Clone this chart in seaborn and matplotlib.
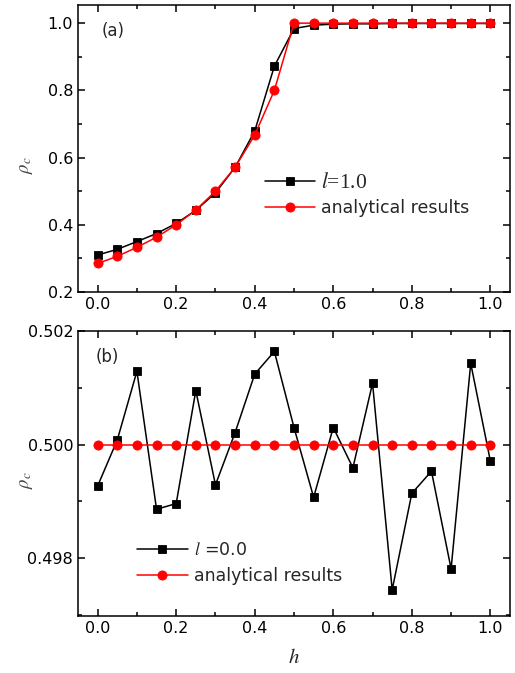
import numpy as np
import pandas as pd
import matplotlib
matplotlib.use("Agg")
import matplotlib.pyplot as plt
import seaborn as sns
from matplotlib.ticker import MultipleLocator, FormatStrFormatter

# ---- data ----
h = [0.00, 0.05, 0.10, 0.15, 0.20, 0.25, 0.30, 0.35, 0.40, 0.45, 0.50,
     0.55, 0.60, 0.65, 0.70, 0.75, 0.80, 0.85, 0.90, 0.95, 1.00]
sim_l1 = [0.310, 0.327, 0.350, 0.374, 0.404, 0.443, 0.495, 0.571, 0.679, 0.872, 0.984,
          0.994, 0.997, 0.998, 0.998, 0.999, 0.999, 0.999, 0.999, 0.999, 0.999]
ana_a = [0.285, 0.306, 0.333, 0.363, 0.400, 0.444, 0.500, 0.571, 0.667, 0.800, 1.000,
         1.000, 1.000, 1.000, 1.000, 1.000, 1.000, 1.000, 1.000, 1.000, 1.000]
sim_l0 = [0.49927, 0.50008, 0.50129, 0.49886, 0.49896, 0.50095, 0.49929, 0.50021,
          0.50124, 0.50164, 0.50030, 0.49907, 0.50030, 0.49959, 0.50108, 0.49744,
          0.49914, 0.49953, 0.49781, 0.50143, 0.49971]
ana_b = [0.500] * 21
xticks = [0.0, 0.2, 0.4, 0.6, 0.8, 1.0]
yticks_a = [0.2, 0.4, 0.6, 0.8, 1.0]
yticks_b = [0.498, 0.500, 0.502]

sns.set_style("ticks")
plt.rcParams["font.family"] = ["DejaVu Sans"]
plt.rcParams["mathtext.fontset"] = "stix"
plt.rcParams["axes.linewidth"] = 1.1

fig = plt.figure(figsize=(5.15, 6.73), dpi=100)
ax_a = fig.add_axes([78/515, 1-292/673, 432/515, 287/673])
ax_b = fig.add_axes([78/515, 1-616/673, 432/515, 285/673])

df_a = pd.DataFrame({"h": h, "sim": sim_l1, "ana": ana_a})
df_b = pd.DataFrame({"h": h, "sim": sim_l0, "ana": ana_b})

def draw(ax, df, simlabel):
    sns.lineplot(data=df, x="h", y="sim", ax=ax, color="black", marker="s",
                 markersize=5.6, markeredgecolor="black", markeredgewidth=0.6,
                 linewidth=1.1, label=simlabel)
    sns.lineplot(data=df, x="h", y="ana", ax=ax, color="#ff0000", marker="o",
                 markersize=6.6, markeredgecolor="#ff0000", markeredgewidth=0.6,
                 linewidth=1.1, label="analytical results")

draw(ax_a, df_a, "$l$=1.0")
draw(ax_b, df_b, "$l$ =0.0")

for ax in (ax_a, ax_b):
    ax.set_xlim(-0.05, 1.05)
    ax.set_xticks(xticks)
    ax.xaxis.set_minor_locator(MultipleLocator(0.1))
    ax.xaxis.set_major_formatter(FormatStrFormatter("%.1f"))
    ax.tick_params(which="both", direction="in", top=True, right=True,
                   width=1.1, labelsize=11.5, colors="black")
    ax.tick_params(which="major", length=5)
    ax.tick_params(which="minor", length=3)
    ax.set_ylabel(r"$\rho_c$", fontsize=13.5, color="#444444")
    for s in ax.spines.values():
        s.set_visible(True)
        s.set_color("black")

ax_a.yaxis.set_label_coords(-0.10, 0.443)
ax_b.yaxis.set_label_coords(-0.10, 0.477)

ax_a.set_ylim(0.2, 1.054)
ax_a.set_yticks(yticks_a)
ax_a.yaxis.set_minor_locator(MultipleLocator(0.1))
ax_a.yaxis.set_major_formatter(FormatStrFormatter("%.1f"))
ax_a.set_xlabel("")

ax_b.set_ylim(0.49698, 0.502)
ax_b.set_yticks(yticks_b)
ax_b.yaxis.set_minor_locator(MultipleLocator(0.001))
ax_b.yaxis.set_major_formatter(FormatStrFormatter("%.3f"))
ax_b.set_xlabel("$h$", fontsize=15, labelpad=8)

ax_a.text(0.055, 0.91, "(a)", transform=ax_a.transAxes, fontsize=12, va="center")
ax_b.text(0.04, 0.91, "(b)", transform=ax_b.transAxes, fontsize=12, va="center")

leg_a = ax_a.legend(loc="center left", bbox_to_anchor=(0.433, 0.338), frameon=False,
                    fontsize=12.5, handlelength=2.9, handletextpad=0.35,
                    labelspacing=0.4, borderpad=0, borderaxespad=0)
leg_a.get_texts()[0].set_family("Liberation Serif")
leg_a.get_texts()[0].set_fontsize(15.5)
leg_b = ax_b.legend(loc="center left", bbox_to_anchor=(0.137, 0.186), frameon=False,
                    fontsize=12.5, handlelength=2.9, handletextpad=0.35,
                    labelspacing=0.45, borderpad=0, borderaxespad=0)

fig.savefig("out.png", dpi=100)
